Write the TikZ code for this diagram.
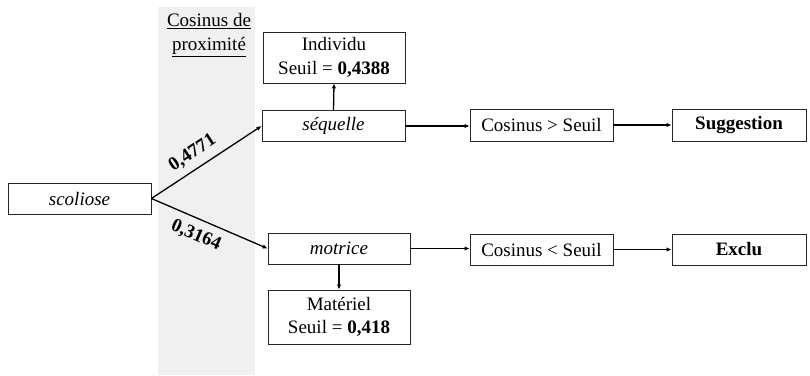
\documentclass[tikz,border=0pt]{standalone}
\usepackage{fontspec}
\setmainfont{Liberation Serif}
\usetikzlibrary{arrows.meta}
\begin{document}
\begin{tikzpicture}[x=1pt,y=-1pt,
  font=\fontsize{19}{23.5}\selectfont,
  box/.style={draw=black!85, line width=0.9pt, inner sep=0pt, align=center, fill=white},
  conn/.style={line width=1.3pt, -{Latex[length=5pt,width=4.5pt]}},
  lbl/.style={font=\fontsize{19}{23}\selectfont\bfseries, inner sep=1pt}]
\useasboundingbox (0,0) rectangle (810,375);
\fill[black!6] (158,7) rectangle (255,375);
\node[align=center, inner sep=0pt] (hdr) at (209,35) {\underline{Cosinus de}\\\underline{proximité}};
\node[box, minimum width=143pt, minimum height=31pt] (scol) at (79.5,198.5) {\textit{scoliose}};
\node[box, minimum width=143pt, minimum height=31pt] (seq) at (333.5,126) {\textit{séquelle}};
\node[box, minimum width=142pt, minimum height=51pt] (ind) at (334,57.5) {Individu\\Seuil = \textbf{0,4388}};
\node[box, minimum width=142pt, minimum height=31pt] (mot) at (339,248.5) {\textit{motrice}};
\node[box, minimum width=142pt, minimum height=54pt] (mat) at (339,317) {Matériel\\Seuil = \textbf{0,418}};
\node[box, minimum width=143pt, minimum height=32pt] (cgt) at (541.5,125) {Cosinus > Seuil};
\node[box, minimum width=134pt, minimum height=32pt] (sug) at (739,125) {\textbf{Suggestion}};
\node[box, minimum width=143pt, minimum height=31pt] (clt) at (541.5,249.5) {Cosinus < Seuil};
\node[box, minimum width=134pt, minimum height=31pt] (exc) at (739,249.5) {\textbf{Exclu}};
\draw[conn] (scol.east) -- node[lbl, sloped, pos=0.45, above=6pt] {0,4771} (seq.west);
\draw[conn] (scol.east) -- node[lbl, sloped, pos=0.44, below=7pt] {0,3164} (mot.west);
\draw[conn] (seq.north) -- (ind.south);
\draw[conn] (mot.south) -- (mat.north);
\draw[conn] (seq.east) -- (seq.east -| cgt.west);
\draw[conn] (cgt.east) -- (sug.west);
\draw[conn] (mot.east) -- (mot.east -| clt.west);
\draw[conn] (clt.east) -- (exc.west);
\end{tikzpicture}
\end{document}
